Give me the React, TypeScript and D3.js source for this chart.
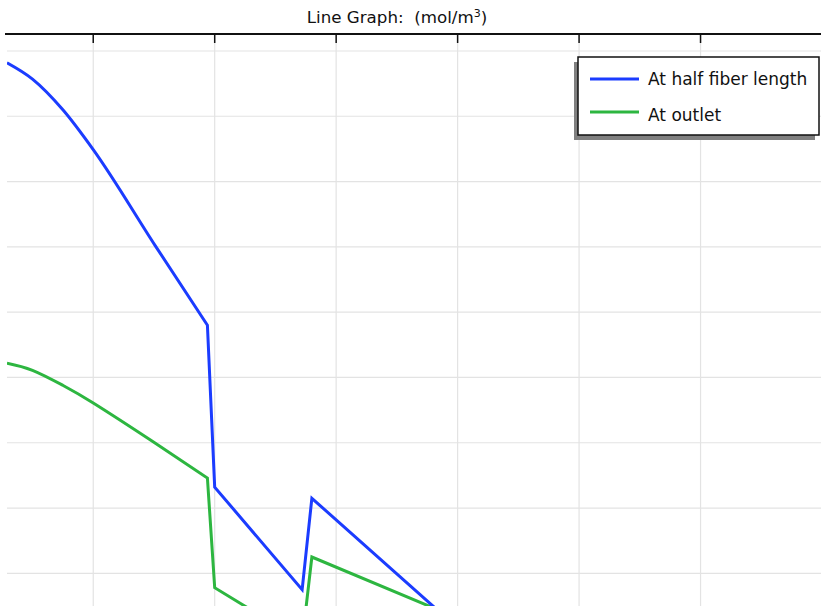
import React from "react";
import * as d3 from "d3";

const xTicks = [1, 2, 3, 4, 5, 6];
const yTicks = [0, 1, 2, 3, 4, 5, 6, 7, 8];

// smooth first stretch, then piecewise straight
const halfX = [0.29, 0.5, 0.75, 1.0, 1.51, 1.94, 2.0, 2.72, 2.8, 4.02];
const halfY = [7.82, 7.57, 7.1, 6.49, 5.02, 3.8, 1.32, -0.25, 1.15, -0.87];
const halfSmoothCount = 6;

const outX = [0.29, 0.5, 0.75, 1.0, 1.49, 1.94, 2.0, 2.23, 2.72, 2.8, 4.02];
const outY = [3.22, 3.11, 2.88, 2.61, 2.02, 1.46, -0.22, -0.48, -1.04, 0.25, -0.7];
const outSmoothCount = 6;

const seriesNames = ["At half fiber length", "At outlet"];
const seriesColors = ["#1b3cff", "#2db640"];

const W = 821;
const H = 606;
const left = 7;
const top = 34;

export default function App() {
  const x = d3.scaleLinear().domain([0.29, 7]).range([left, W + 1]);
  const y = d3.scaleLinear().domain([-0.5, 8.26]).range([H, top]);

  const mk = (curve: d3.CurveFactory) =>
    d3
      .line<[number, number]>()
      .x((d) => x(d[0]))
      .y((d) => y(d[1]))
      .curve(curve);

  const build = (xs: number[], ys: number[], n: number, curve: d3.CurveFactory) => {
    const pts: [number, number][] = xs.map((v, i) => [v, ys[i]]);
    let d = mk(curve)(pts.slice(0, n)) || "";
    pts.slice(n).forEach((p) => {
      d += `L${x(p[0])},${y(p[1])}`;
    });
    return d;
  };

  const font = "'DejaVu Sans', sans-serif";

  return (
    <svg
      width={W}
      height={H}
      style={{ position: "absolute", left: 0, top: 0, background: "#fff" }}
    >
      <defs>
        <clipPath id="plot">
          <rect x={left} y={top} width={W - left} height={H - top} />
        </clipPath>
      </defs>
      <rect x={0} y={0} width={W} height={H} fill="#fff" />
      {yTicks.map((t) => (
        <line key={"gy" + t} x1={left} x2={W} y1={y(t)} y2={y(t)} stroke="#e3e3e3" strokeWidth={1.2} />
      ))}
      {xTicks.map((t) => (
        <line key={"gx" + t} x1={x(t)} x2={x(t)} y1={top} y2={H} stroke="#e3e3e3" strokeWidth={1.2} />
      ))}
      <line x1={5} x2={W} y1={top} y2={top} stroke="#111" strokeWidth={2} />
      {xTicks.map((t) => (
        <line key={"tk" + t} x1={x(t)} x2={x(t)} y1={top} y2={top + 9} stroke="#111" strokeWidth={1.5} />
      ))}
      <g clipPath="url(#plot)">
        <path d={build(outX, outY, outSmoothCount, d3.curveNatural)} fill="none" stroke={seriesColors[1]} strokeWidth={3} />
        <path d={build(halfX, halfY, halfSmoothCount, d3.curveMonotoneX)} fill="none" stroke={seriesColors[0]} strokeWidth={3} />
      </g>
      <text x={397} y={23} textAnchor="middle" fontFamily={font} fontSize={16.7} fill="#111">
        Line Graph:{"\u00a0\u00a0"}(mol/m
        <tspan fontSize={11} dy={-6}>3</tspan>
        <tspan dy={6}>)</tspan>
      </text>
      <rect x={574} y={62} width={241} height={78} fill="#808080" />
      <rect x={578} y={57} width={241} height={78} fill="#fff" stroke="#111" strokeWidth={1.5} />
      {seriesNames.map((n, i) => (
        <g key={n}>
          <line x1={590} x2={639} y1={79 + i * 33} y2={79 + i * 33} stroke={seriesColors[i]} strokeWidth={3} />
          <text x={648} y={85 + i * 36} fontFamily={font} fontSize={17} fill="#111">
            {n}
          </text>
        </g>
      ))}
    </svg>
  );
}
